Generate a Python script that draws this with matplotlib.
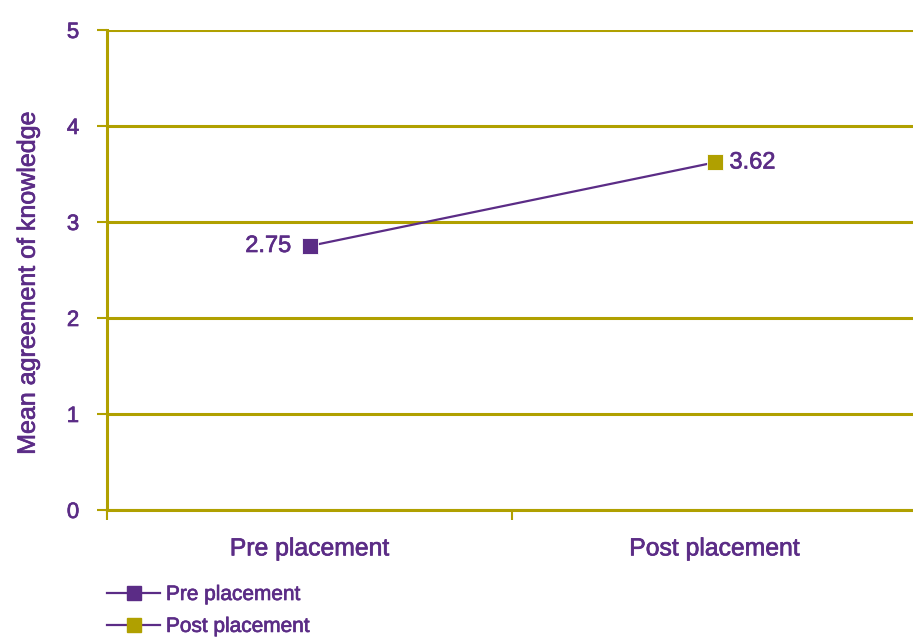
import matplotlib.pyplot as plt
import matplotlib.patheffects as pe
from matplotlib.lines import Line2D

plt.rcParams['font.family'] = ['Liberation Sans', 'DejaVu Sans']

# data
categories = ["Pre placement", "Post placement"]
means = [2.75, 3.62]
marker_colors = ["#5b2c86", "#b0a000"]

purple = "#5b2c86"
olive = "#b0a000"
# make the regular font look a bit heavier, like the original
heavy = [pe.withStroke(linewidth=0.5, foreground=purple)]

fig = plt.figure(figsize=(9.13, 6.39), dpi=100)
ax = fig.add_axes([107 / 913, 129 / 639, 810 / 913, 480 / 639])

x = [0.5, 1.5]
ax.plot(x, means, color=purple, lw=1.6, zorder=3)
for xi, m, c in zip(x, means, marker_colors):
    ax.plot(xi, m, marker="s", ms=11, color=c, mec="white", mew=0.6, zorder=4)

t1 = ax.text(x[0] - 0.045, means[0], f"{means[0]:.2f}", color=purple, fontsize=17,
             ha="right", va="center")
t2 = ax.text(x[1] + 0.037, means[1], f"{means[1]:.2f}", color=purple, fontsize=17,
             ha="left", va="center")

ax.set_xlim(0, 2)
ax.set_ylim(0, 5)
ax.set_yticks(range(0, 6))
ax.yaxis.grid(True, color=olive, lw=2.2)
ax.set_axisbelow(True)

ax.set_xticks([0, 1, 2])
ax.set_xticklabels([])
ax.set_xticks(x, minor=True)
ax.set_xticklabels(categories, minor=True, fontsize=17.8, color=purple)
ax.tick_params(axis="x", which="minor", length=0, pad=19)
ax.tick_params(axis="x", which="major", length=7, width=1.5, color=olive)
ax.tick_params(axis="y", length=7, width=1.5, color=olive, labelsize=16,
               labelcolor=purple, pad=13)

for s in ["top", "right"]:
    ax.spines[s].set_visible(False)
for s in ["left", "bottom"]:
    ax.spines[s].set_color(olive)
    ax.spines[s].set_linewidth(2.2)

yl = ax.set_ylabel("Mean agreement of knowledge", fontsize=18, color=purple)
ax.yaxis.set_label_coords(-0.083, 0.472)

handles = [Line2D([], [], color=purple, lw=1.6, marker="s", ms=10, mfc=c, mec=c)
           for c in marker_colors]
leg = fig.legend(handles, categories, loc="upper left",
                 bbox_to_anchor=(107 / 913, 1 - 585 / 639),
                 frameon=False, fontsize=15, labelcolor=purple, handlelength=2.55,
                 handletextpad=0.28, labelspacing=0.62, borderpad=0, borderaxespad=0)

texts = [t1, t2, yl] + ax.get_yticklabels() + ax.get_xticklabels(minor=True) + leg.get_texts()
for t in texts:
    t.set_path_effects(heavy)

fig.savefig("out.png", dpi=100)
